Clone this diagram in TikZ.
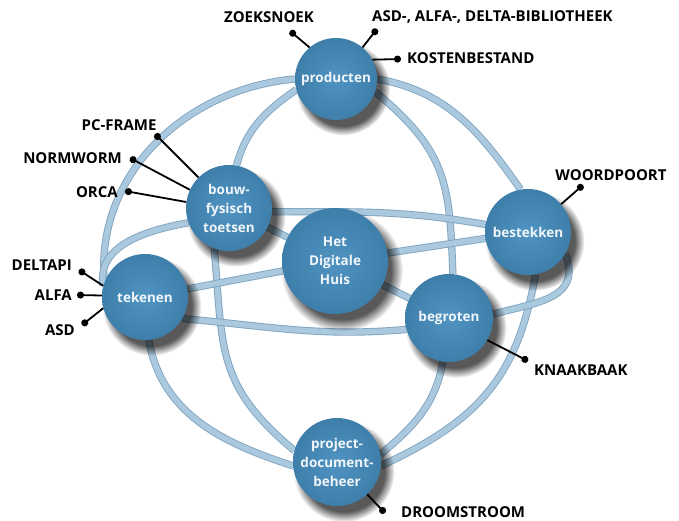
\documentclass[tikz,border=0pt]{standalone}
\usepackage{fontspec}
\setmainfont{Open Sans}
\usetikzlibrary{arrows.meta,backgrounds,shadows,fadings}
\definecolor{bolblauw}{RGB}{80,148,194}
\definecolor{bolrand}{RGB}{62,126,170}
\definecolor{buiskleur}{RGB}{170,201,222}
\definecolor{buisrand}{RGB}{128,164,192}
\tikzset{
  bol/.style={circle, inner sep=0pt, align=center, text=white!92!bolblauw,
    font=\fontsize{13.5}{19}\selectfont\bfseries,
    inner color=bolblauw, outer color=bolrand,
    drop shadow={shadow xshift=6pt, shadow yshift=-8pt, shadow scale=1.15,
      fill=black, opacity=0.65, path fading=circle with fuzzy edge 20 percent}},
  buis/.style={draw=buisrand, line width=0.9pt, double=buiskleur, double distance=5.5pt},
  speld/.style={line width=1.8pt, -{Circle[length=7pt]}},
  etiket/.style={font=\fontsize{15}{17}\selectfont\bfseries, inner sep=0pt}
}

\begin{document}
\begin{tikzpicture}[x=1pt,y=1pt]
		%%%%% START %%%%%
		\useasboundingbox (0,0) rectangle (679,-520);
		
		\node[bol, minimum size=82pt] (producten) at (336,-79) {producten};
		\node[bol, minimum size=86pt] (bouw) at (229,-208) {bouw-\\fysisch\\toetsen};
		\node[bol, minimum size=106pt] (huis) at (335,-261) {Het\\Digitale\\Huis};
		\node[bol, minimum size=86pt] (bestekken) at (528,-232) {bestekken};
		\node[bol, minimum size=86pt] (tekenen) at (145,-297) {tekenen};
		\node[bol, minimum size=88pt] (begroten) at (449,-318) {begroten};
		\node[bol, minimum size=88pt] (project) at (337,-462) {project-\\document-\\beheer};
		
		\begin{pgfonlayer}{background}
		\fill[white] (0,0) rectangle (679,-520);
		% buitenring
		\draw[buis] (producten.180) to[out=185,in=95] (tekenen.160);
		\draw[buis] (tekenen.275) to[out=-80,in=162] (project.185);
		\draw[buis] (producten.0) to[out=-10,in=125] (bestekken.100);
		\draw[buis] (bestekken.-80) to[out=-100,in=25,looseness=1.1] (project.-5);
		% meridianen
		\draw[buis] (producten.195) to[out=215,in=75] (bouw.80);
		\draw[buis] (bouw.250) to[out=-85,in=140,looseness=1.2] (project.165);
		\draw[buis] (producten.-18) to[out=-40,in=92,looseness=1.2] (begroten.85);
		\draw[buis] (begroten.-98) to[out=-100,in=40] (project.10);
		% evenaar
		\draw[buis] (bouw.-5) to[out=0,in=170] (bestekken.170);
		\draw[buis] (bouw.200) to[out=190,in=100] (tekenen.165);
		\draw[buis] (tekenen.-30) to[out=-5,in=185] (begroten.195);
		\draw[buis] (begroten.5) to[out=15,in=-70,looseness=1.3] (bestekken.-30);
		% spaken
		\draw[buis] (tekenen) -- (huis) (huis) -- (bestekken);
		\draw[buis] (bouw) -- (huis) (huis) -- (begroten);
		\end{pgfonlayer}
		
		% pakketten
		\node[etiket] (zoeksnoek) at (269,-17) {ZOEKSNOEK};
		\node[etiket, anchor=west] (bibliotheek) at (372,-17) {ASD-, ALFA-, DELTA-BIBLIOTHEEK};
		\node[etiket, anchor=west] (kosten) at (407,-58) {KOSTENBESTAND};
		\node[etiket] (pcframe) at (119,-125) {PC-FRAME};
		\node[etiket, anchor=east] (normworm) at (122,-158) {NORMWORM};
		\node[etiket, anchor=east] (orca) at (118,-192) {ORCA};
		\node[etiket] (woordpoort) at (611,-175) {WOORDPOORT};
		\node[etiket, anchor=east] (deltapi) at (72,-265) {DELTAPI};
		\node[etiket, anchor=east] (alfa) at (72,-295) {ALFA};
		\node[etiket, anchor=east] (asd) at (75,-330) {ASD};
		\node[etiket, anchor=west] (knaakbaak) at (534,-370) {KNAAKBAAK};
		\node[etiket, anchor=west] (droomstroom) at (401,-512) {DROOMSTROOM};
		
		\coordinate (p-zoek) at (290,-31);
		\coordinate (p-bib) at (377,-29);
		\coordinate (p-kosten) at (401,-59);
		\coordinate (p-pc) at (155,-134);
		\coordinate (p-norm) at (130,-158);
		\coordinate (p-orca) at (125,-191);
		\coordinate (p-woord) at (583,-185);
		\coordinate (p-deltapi) at (79,-270);
		\coordinate (p-alfa) at (77,-295);
		\coordinate (p-asd) at (82,-325);
		\coordinate (p-knaak) at (528,-361);
		\coordinate (p-droom) at (385,-513);
		
		\draw[speld] (producten.130) -- (p-zoek);
		\draw[speld] (producten.50) -- (p-bib);
		\draw[speld] (producten.28) -- (p-kosten);
		\draw[speld] (bouw.135) -- (p-pc);
		\draw[speld] (bouw.155) -- (p-norm);
		\draw[speld] (bouw.172) -- (p-orca);
		\draw[speld] (bestekken.40) -- (p-woord);
		\draw[speld] (tekenen.165) -- (p-deltapi);
		\draw[speld] (tekenen.178) -- (p-alfa);
		\draw[speld] (tekenen.195) -- (p-asd);
		\draw[speld] (begroten.-30) -- (p-knaak);
		\draw[speld] (project.-47) -- (p-droom);
		%%%%% END %%%%%
\end{tikzpicture}
\end{document}
